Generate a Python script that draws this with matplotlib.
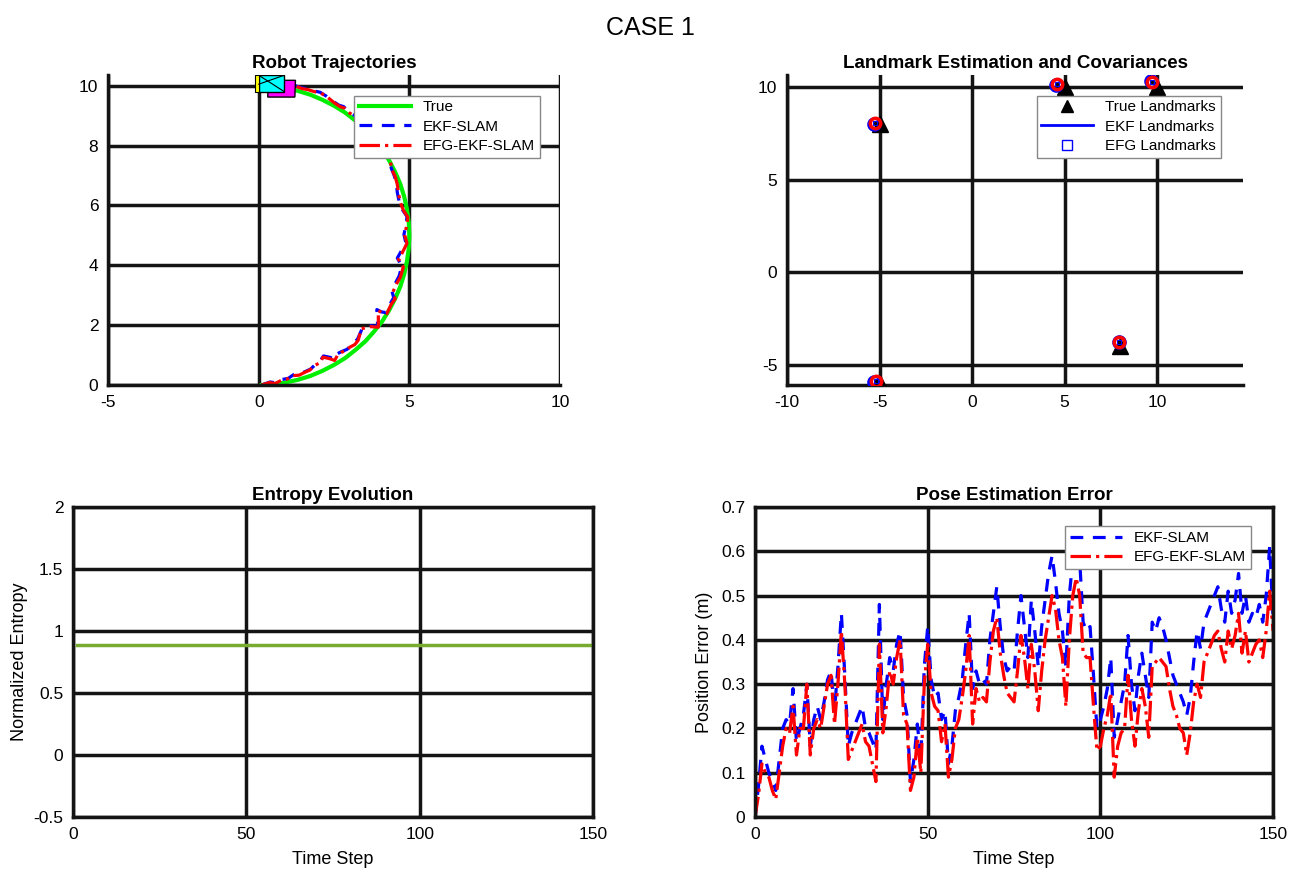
import numpy as np
import matplotlib.pyplot as plt
from matplotlib.patches import Polygon
from matplotlib.lines import Line2D

plt.rcParams['font.family'] = ['Liberation Sans', 'DejaVu Sans']
plt.rcParams['axes.unicode_minus'] = False

# ---- datos: trayectorias del robot ----
true_x = [0.10, 0.44, 0.87, 1.29, 1.71, 2.11, 2.50, 2.87, 3.21, 3.54, 3.83, 4.10, 4.33, 4.53,
          4.70, 4.83, 4.92, 4.98, 5.00, 4.98, 4.92, 4.83, 4.70, 4.53, 4.33, 4.10, 3.83, 3.54,
          3.21, 2.87, 2.50, 2.11, 1.71, 1.29]
true_y = [0.00, 0.02, 0.08, 0.17, 0.30, 0.47, 0.67, 0.90, 1.17, 1.46, 1.79, 2.13, 2.50, 2.89,
          3.29, 3.71, 4.13, 4.56, 5.00, 5.44, 5.87, 6.29, 6.71, 7.11, 7.50, 7.87, 8.21, 8.54,
          8.83, 9.10, 9.33, 9.53, 9.70, 9.83]

ekf_x = [0.10, 0.38, 0.58, 0.76, 0.98, 1.15, 1.33, 1.55, 1.72, 1.88, 2.02, 2.15, 2.38, 2.50, 2.60,
         2.76, 2.93, 3.05, 3.15, 3.28, 3.45, 3.72, 3.95, 3.92, 4.08, 4.22, 4.38, 4.48, 4.42, 4.55,
         4.66, 4.75, 4.60, 4.70, 4.88, 4.82, 4.90, 4.92, 4.76, 4.66, 4.60, 4.57, 4.50, 4.40, 4.34,
         4.26, 4.20, 4.06, 3.93, 3.76, 3.60, 3.36, 3.16, 2.96, 2.82, 2.66, 2.48, 2.26, 2.04, 1.82,
         1.60, 1.42, 1.22]
ekf_y = [0.00, 0.10, 0.07, 0.18, 0.22, 0.34, 0.36, 0.45, 0.53, 0.68, 0.78, 0.97, 0.92, 0.86, 1.04,
         1.12, 1.19, 1.30, 1.40, 1.53, 1.92, 1.98, 1.96, 2.52, 2.44, 2.42, 2.74, 2.92, 3.14, 3.43,
         3.64, 3.97, 4.24, 4.42, 4.76, 5.03, 5.42, 5.63, 5.87, 6.13, 6.43, 6.73, 6.99, 7.24, 7.56,
         7.69, 7.89, 8.14, 8.34, 8.54, 8.73, 8.85, 9.02, 9.15, 9.30, 9.35, 9.47, 9.64, 9.78, 9.83,
         9.90, 9.93, 10.00]

efg_x = [0.10, 0.35, 0.55, 0.74, 0.95, 1.13, 1.35, 1.52, 1.70, 1.85, 2.05, 2.13, 2.35, 2.52, 2.62,
         2.74, 2.90, 3.02, 3.19, 3.30, 3.41, 3.70, 3.97, 3.97, 4.10, 4.25, 4.40, 4.53, 4.45, 4.58,
         4.70, 4.80, 4.64, 4.75, 4.92, 4.85, 4.92, 4.95, 4.80, 4.70, 4.64, 4.60, 4.53, 4.42, 4.36,
         4.30, 4.25, 4.10, 3.97, 3.80, 3.63, 3.40, 3.19, 3.00, 2.85, 2.70, 2.52, 2.30, 2.07, 1.85,
         1.63, 1.45, 1.24]
efg_y = [0.00, 0.08, 0.05, 0.15, 0.20, 0.31, 0.33, 0.42, 0.50, 0.65, 0.75, 0.93, 0.88, 0.82, 1.00,
         1.09, 1.15, 1.26, 1.35, 1.49, 1.88, 1.95, 1.93, 2.49, 2.40, 2.38, 2.70, 2.88, 3.10, 3.39,
         3.60, 3.94, 4.20, 4.39, 4.73, 5.00, 5.40, 5.60, 5.84, 6.10, 6.40, 6.70, 6.96, 7.20, 7.52,
         7.65, 7.85, 8.10, 8.30, 8.50, 8.69, 8.80, 8.97, 9.10, 9.25, 9.30, 9.42, 9.60, 9.75, 9.80,
         9.87, 9.90, 9.98]

# forma del robot al final (esquinas)
robot_amarillo = [(-0.12, 9.80), (0.02, 9.80), (0.02, 10.35), (-0.12, 10.35)]
robot_cian = [(0.0, 9.80), (0.85, 9.80), (0.85, 10.35), (0.0, 10.35)]
robot_magenta = [(0.30, 9.62), (1.20, 9.62), (1.22, 10.18), (0.32, 10.18)]

# ---- datos: landmarks ----
lm_true_x = [-5, 5, 10, 8, -5]
lm_true_y = [8, 10, 10, -4, -6]
lm_ekf_x = [-5.32, 4.55, 9.68, 7.93, -5.28]
lm_ekf_y = [8.05, 10.15, 10.35, -3.75, -5.90]
lm_efg_x = [-5.25, 4.62, 9.75, 7.97, -5.21]
lm_efg_y = [8.10, 10.18, 10.30, -3.77, -5.85]

# ---- datos: entropia ----
entropia_t = [1, 150]
entropia_val = [0.89, 0.89]

# ---- datos: error de posicion ----
err_ekf = [0.00, 0.07, 0.16, 0.13, 0.10, 0.08, 0.06, 0.13, 0.20, 0.22, 0.21, 0.29, 0.17, 0.20, 0.23,
           0.30, 0.16, 0.22, 0.25, 0.22, 0.26, 0.31, 0.33, 0.24, 0.34, 0.46, 0.32, 0.16, 0.19, 0.21,
           0.23, 0.25, 0.20, 0.19, 0.17, 0.15, 0.48, 0.22, 0.30, 0.36, 0.33, 0.39, 0.42, 0.27, 0.23,
           0.08, 0.13, 0.21, 0.13, 0.34, 0.43, 0.31, 0.27, 0.28, 0.22, 0.24, 0.12, 0.16, 0.24, 0.27,
           0.31, 0.39, 0.46, 0.29, 0.33, 0.30, 0.31, 0.30, 0.40, 0.46, 0.52, 0.43, 0.36, 0.33, 0.34,
           0.33, 0.42, 0.50, 0.43, 0.36, 0.49, 0.42, 0.34, 0.43, 0.49, 0.55, 0.59, 0.53, 0.46, 0.42,
           0.34, 0.50, 0.58, 0.61, 0.58, 0.44, 0.42, 0.43, 0.32, 0.20, 0.22, 0.25, 0.29, 0.36, 0.18,
           0.22, 0.26, 0.30, 0.41, 0.30, 0.24, 0.32, 0.37, 0.32, 0.27, 0.44, 0.42, 0.45, 0.43, 0.40,
           0.36, 0.32, 0.30, 0.28, 0.26, 0.23, 0.27, 0.35, 0.42, 0.38, 0.44, 0.46, 0.48, 0.50, 0.52,
           0.47, 0.44, 0.51, 0.46, 0.49, 0.55, 0.46, 0.50, 0.44, 0.46, 0.45, 0.48, 0.44, 0.50, 0.61,
           0.45]
err_efg = [0.00, 0.05, 0.12, 0.10, 0.09, 0.06, 0.04, 0.10, 0.16, 0.20, 0.19, 0.25, 0.14, 0.20, 0.20,
           0.30, 0.14, 0.20, 0.22, 0.20, 0.25, 0.30, 0.32, 0.21, 0.30, 0.42, 0.30, 0.13, 0.15, 0.17,
           0.19, 0.21, 0.17, 0.16, 0.12, 0.08, 0.39, 0.19, 0.25, 0.33, 0.30, 0.36, 0.40, 0.23, 0.21,
           0.06, 0.09, 0.18, 0.10, 0.30, 0.39, 0.28, 0.25, 0.24, 0.17, 0.21, 0.09, 0.13, 0.20, 0.22,
           0.27, 0.33, 0.41, 0.21, 0.29, 0.26, 0.27, 0.26, 0.35, 0.42, 0.45, 0.37, 0.32, 0.28, 0.27,
           0.26, 0.33, 0.41, 0.36, 0.29, 0.39, 0.33, 0.24, 0.33, 0.40, 0.45, 0.50, 0.47, 0.40, 0.36,
           0.25, 0.40, 0.50, 0.54, 0.50, 0.37, 0.36, 0.36, 0.25, 0.15, 0.16, 0.20, 0.23, 0.28, 0.09,
           0.16, 0.19, 0.20, 0.32, 0.22, 0.16, 0.24, 0.29, 0.25, 0.18, 0.34, 0.35, 0.36, 0.35, 0.34,
           0.29, 0.25, 0.23, 0.20, 0.19, 0.14, 0.19, 0.26, 0.30, 0.27, 0.35, 0.37, 0.39, 0.41, 0.42,
           0.38, 0.35, 0.42, 0.38, 0.41, 0.46, 0.37, 0.42, 0.35, 0.37, 0.39, 0.40, 0.36, 0.42, 0.51,
           0.42]
pasos = np.arange(len(err_ekf))

LW_GRID = 2.5
TXT = 12.5
TIT = 13.5


def estilo(ax, caja):
    ax.grid(True, color='#141414', linewidth=LW_GRID)
    ax.set_axisbelow(True)
    for lado in ['left', 'bottom', 'top', 'right']:
        ax.spines[lado].set_linewidth(LW_GRID)
        ax.spines[lado].set_color('#141414')
    if not caja:
        ax.spines['top'].set_visible(False)
        ax.spines['right'].set_visible(False)
    ax.tick_params(length=0, labelsize=TXT, pad=7)


fig = plt.figure(figsize=(13, 8.85), dpi=100)
fig.suptitle('CASE 1', fontsize=18, y=0.982)

# ---- trayectorias ----
ax1 = fig.add_axes([0.0831, 0.565, 0.3477, 0.350])
ax1.plot(true_x, true_y, color='#00ee00', linewidth=3, label='True')
ax1.plot(ekf_x, ekf_y, 'b--', linewidth=2.3, dashes=(4, 3), label='EKF-SLAM')
ax1.plot(efg_x, efg_y, 'r-.', linewidth=2.3, label='EFG-EKF-SLAM')
ax1.add_patch(Polygon(robot_magenta, closed=True, facecolor='#ff00ff', edgecolor='black', lw=1, zorder=4))
ax1.add_patch(Polygon(robot_cian, closed=True, facecolor='#00ffff', edgecolor='black', lw=1, zorder=5))
ax1.add_patch(Polygon(robot_amarillo, closed=True, facecolor='#ffff00', edgecolor='black', lw=0.8, zorder=6))
ax1.plot([robot_cian[0][0], robot_cian[2][0]], [robot_cian[3][1], robot_cian[1][1]], 'k-', lw=0.8, zorder=6)
ax1.plot([robot_cian[0][0], robot_cian[2][0]], [10.05, robot_cian[2][1]], 'k-', lw=0.8, zorder=6)
ax1.set_xlim(-5, 10)
ax1.set_ylim(0, 10.35)
ax1.set_xticks([-5, 0, 5, 10])
ax1.set_yticks([0, 2, 4, 6, 8, 10])
estilo(ax1, False)
ax1.set_title('Robot Trajectories', fontsize=TIT, fontweight='bold', pad=5)
ax1.legend(loc='upper right', bbox_to_anchor=(0.972, 0.958), fontsize=11, fancybox=False,
           edgecolor='#888888', framealpha=1, handlelength=3.4, borderpad=0.3, labelspacing=0.35)

# ---- landmarks ----
ax2 = fig.add_axes([0.6054, 0.565, 0.3508, 0.350])
ax2.plot(lm_true_x, lm_true_y, 'k^', markersize=11, linestyle='none', label='True Landmarks', zorder=3)
ax2.plot(lm_ekf_x, lm_ekf_y, 'o', markerfacecolor='none', markeredgecolor='blue', markersize=8.5,
         markeredgewidth=2, linestyle='none', zorder=4)
ax2.plot(lm_efg_x, lm_efg_y, 'o', markerfacecolor='none', markeredgecolor='red', markersize=7.5,
         markeredgewidth=2.5, linestyle='none', zorder=5)
ax2.plot(lm_efg_x, lm_efg_y, 'k.', markersize=3, zorder=6)
ax2.plot(lm_efg_x, lm_efg_y, 's', markerfacecolor='none', markeredgecolor='blue', markersize=2.5,
         markeredgewidth=0.8, linestyle='none', zorder=6)
ax2.set_xlim(-10, 14.65)
ax2.set_ylim(-6.08, 10.66)
ax2.set_xticks([-10, -5, 0, 5, 10])
ax2.set_yticks([-5, 0, 5, 10])
estilo(ax2, False)
ax2.set_title('Landmark Estimation and Covariances', fontsize=TIT, fontweight='bold', pad=5)
manijas = [Line2D([], [], color='black', marker='^', linestyle='none', markersize=8),
           Line2D([], [], color='blue', linewidth=2),
           Line2D([], [], color='blue', marker='s', markerfacecolor='none', linestyle='none', markersize=7)]
ax2.legend(manijas, ['True Landmarks', 'EKF Landmarks', 'EFG Landmarks'], loc='upper right',
           bbox_to_anchor=(0.968, 0.958), fontsize=11, fancybox=False, edgecolor='#888888',
           framealpha=1, handlelength=3.4, borderpad=0.3, labelspacing=0.35)

# ---- entropia ----
ax3 = fig.add_axes([0.0562, 0.0768, 0.4, 0.3503])
ax3.plot(entropia_t, entropia_val, color='#77ac30', linewidth=2.5)
ax3.set_xlim(0, 150)
ax3.set_ylim(-0.5, 2)
ax3.set_xticks([0, 50, 100, 150])
ax3.set_yticks([-0.5, 0, 0.5, 1, 1.5, 2])
ax3.set_yticklabels(['-0.5', '0', '0.5', '1', '1.5', '2'])
estilo(ax3, True)
ax3.set_title('Entropy Evolution', fontsize=TIT, fontweight='bold', pad=5)
ax3.set_xlabel('Time Step', fontsize=TXT + 0.5, labelpad=7)
ax3.set_ylabel('Normalized Entropy', fontsize=TXT + 0.5, labelpad=4)

# ---- error de pose ----
ax4 = fig.add_axes([0.5808, 0.0768, 0.3985, 0.3503])
ax4.plot(pasos, err_ekf, 'b--', linewidth=2.3, dashes=(4, 3), label='EKF-SLAM')
ax4.plot(pasos, err_efg, 'r-.', linewidth=2.3, label='EFG-EKF-SLAM')
ax4.set_xlim(0, 150)
ax4.set_ylim(0, 0.7)
ax4.set_xticks([0, 50, 100, 150])
ax4.set_yticks([0, 0.1, 0.2, 0.3, 0.4, 0.5, 0.6, 0.7])
ax4.set_yticklabels(['0', '0.1', '0.2', '0.3', '0.4', '0.5', '0.6', '0.7'])
estilo(ax4, True)
ax4.set_title('Pose Estimation Error', fontsize=TIT, fontweight='bold', pad=5)
ax4.set_xlabel('Time Step', fontsize=TXT + 0.5, labelpad=7)
ax4.set_ylabel('Position Error (m)', fontsize=TXT + 0.5, labelpad=6)
ax4.legend(loc='upper right', bbox_to_anchor=(0.972, 0.962), fontsize=11, fancybox=False,
           edgecolor='#888888', framealpha=1, handlelength=3.4, borderpad=0.3, labelspacing=0.35)

plt.savefig('out.png', dpi=100)
